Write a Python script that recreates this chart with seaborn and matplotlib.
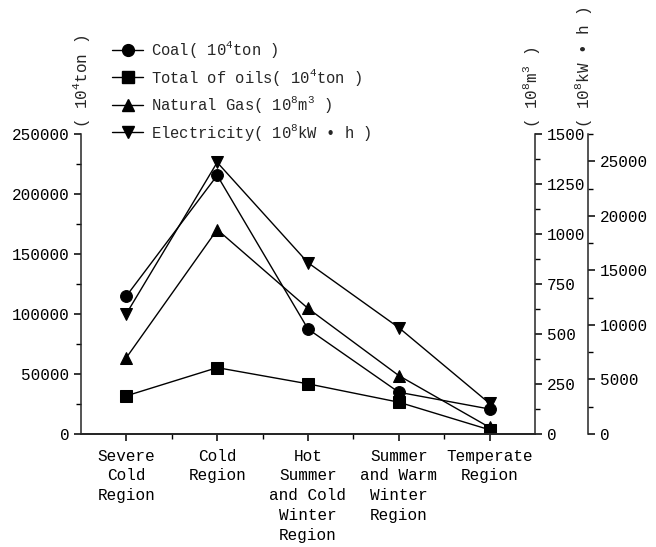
import matplotlib
matplotlib.use("Agg")
import matplotlib.pyplot as plt
from matplotlib.ticker import MultipleLocator, FixedLocator
from matplotlib.lines import Line2D
import seaborn as sns

# climate regions along the x axis
regions = ["Severe\nCold\nRegion", "Cold\nRegion", "Hot\nSummer\nand Cold\nWinter\nRegion",
           "Summer\nand Warm\nWinter\nRegion", "Temperate\nRegion"]
xpos = [0, 1, 2, 3, 4]

# values
coal = [115000, 215500, 87500, 34800, 20800]         # 10^4 ton, left axis
oils = [31800, 55300, 41800, 26500, 3500]            # 10^4 ton, left axis
gas = [382, 1022, 628, 292, 33]                      # 10^8 m3, first right axis
electricity = [11030, 24900, 15700, 9750, 2800]      # 10^8 kWh, second right axis

sns.set_style("ticks")
plt.rcParams["font.family"] = ["Liberation Mono", "DejaVu Sans"]
plt.rcParams["mathtext.fontset"] = "custom"
plt.rcParams["mathtext.rm"] = "Liberation Mono"
plt.rcParams["axes.linewidth"] = 1.1
plt.rcParams["xtick.color"] = "black"
plt.rcParams["ytick.color"] = "black"

fig = plt.figure(figsize=(6.56, 5.47), dpi=100)
ax = fig.add_axes([81 / 656, 1 - 434 / 547, 454 / 656, 300 / 547])
ax2 = ax.twinx()
ax3 = ax.twinx()

kw = dict(color="black", linewidth=1.0, markersize=8.5, markeredgecolor="black", legend=False)
sns.lineplot(x=xpos, y=coal, ax=ax, marker="o", **kw)
sns.lineplot(x=xpos, y=oils, ax=ax, marker="s", **kw)
sns.lineplot(x=xpos, y=gas, ax=ax2, marker="^", **kw)
sns.lineplot(x=xpos, y=electricity, ax=ax3, marker="v", **kw)

ax.set_xlim(-0.5, 4.5)
ax.set_ylim(0, 250000)
ax2.set_ylim(0, 1500)
ax3.set_ylim(0, 27500)

ax.set_xticks(xpos)
ax.set_xticklabels(regions, fontsize=11, linespacing=1.4)
ax.xaxis.set_minor_locator(FixedLocator([0.5, 1.5, 2.5, 3.5]))
ax.yaxis.set_major_locator(MultipleLocator(50000))
ax.yaxis.set_minor_locator(MultipleLocator(25000))
ax2.yaxis.set_major_locator(MultipleLocator(250))
ax2.yaxis.set_minor_locator(MultipleLocator(125))
ax3.yaxis.set_major_locator(MultipleLocator(5000))
ax3.yaxis.set_minor_locator(MultipleLocator(2500))

for a in (ax, ax2, ax3):
    a.tick_params(which="major", length=5, width=1.1, labelsize=11.5, direction="out")
    a.tick_params(which="minor", length=3.5, width=1.0, direction="out")
    a.set_xlabel("")
    a.set_ylabel("")
    a.spines["top"].set_visible(False)
ax.tick_params(axis="x", which="major", pad=5.5)

ax.spines["right"].set_visible(False)
ax3.spines["left"].set_visible(False)
ax2.spines["left"].set_visible(False)
ax3.spines["right"].set_position(("axes", 507 / 454))

# axis titles sit above the top of each spine
ax.text(0.0, 1.02, "( 10$^4$ton )", transform=ax.transAxes, rotation=90,
        ha="center", va="bottom", fontsize=11.5)
ax2.text(0.993, 1.02, "( 10$^8$m$^3$ )", transform=ax.transAxes, rotation=90,
         ha="center", va="bottom", fontsize=11.5)
ax3.text(1.106, 1.02, "( 10$^8$kW • h )", transform=ax.transAxes, rotation=90,
         ha="center", va="bottom", fontsize=11.5)

handles = [
    Line2D([], [], color="black", lw=1.0, marker="o", markersize=8.5),
    Line2D([], [], color="black", lw=1.0, marker="s", markersize=8.5),
    Line2D([], [], color="black", lw=1.0, marker="^", markersize=8.5),
    Line2D([], [], color="black", lw=1.0, marker="v", markersize=8.5),
]
labels = ["Coal( 10$^4$ton )", "Total of oils( 10$^4$ton )",
          "Natural Gas( 10$^8$m$^3$ )", "Electricity( 10$^8$kW • h )"]
fig.legend(handles, labels, loc="upper left", bbox_to_anchor=(106 / 656, 1 - 33 / 547),
           frameon=False, fontsize=11.2, handlelength=2.0, handletextpad=0.5,
           labelspacing=0.42, borderaxespad=0)

fig.savefig("out.png", dpi=100)
